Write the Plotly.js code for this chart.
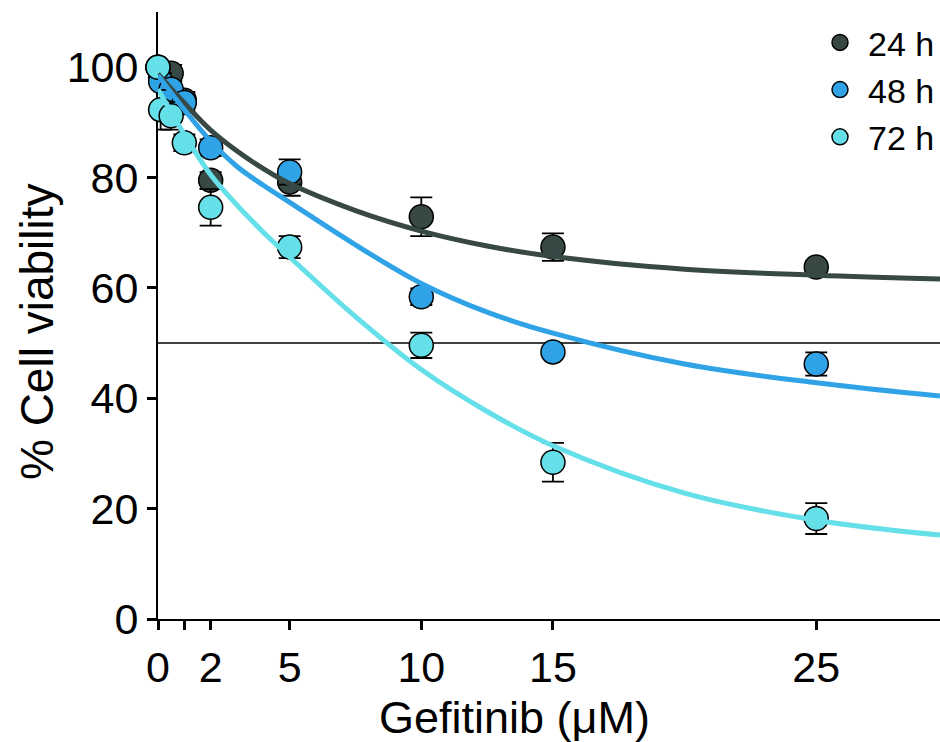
<!DOCTYPE html>
<html>
<head>
<meta charset="utf-8">
<script src="https://cdn.plot.ly/plotly-3.0.1.min.js"></script>
<style>html,body{margin:0;padding:0;background:#fff;}#chart{width:940px;height:742px;}</style>
</head>
<body>
<div id="chart"></div>
<script>
// Measured data (Gefitinib concentration in µM, % cell viability)
const conc = [0, 0.1, 0.5, 1, 2, 5, 10, 15, 25];
const v24 = [100, 98, 98.9, 94, 79.5, 79.2, 72.9, 67.4, 63.8];
const e24 = [0, 1, 1.5, 1.5, 1.5, 2.5, 3.5, 2.5, 1];
const v48 = [100, 97.4, 96, 93.6, 85.4, 81, 58.4, 48.4, 46.2];
const e48 = [0, 1.5, 1.5, 1.5, 1.5, 2.3, 1.5, 1, 2.1];
const v72 = [100, 92.3, 91.2, 86.3, 74.6, 67.4, 49.6, 28.4, 18.2];
const e72 = [0, 3.6, 2.5, 1.5, 3.3, 2, 2.3, 3.5, 2.8];

// Fitted curves
const fitX = [0, 1, 2, 3, 4, 5, 7.5, 10, 12.5, 15, 20, 25, 29.7];
const fit24 = [98.8, 93.5, 88.6, 84.8, 81.6, 78.9, 74.0, 70.3, 67.6, 65.7, 63.4, 62.3, 61.6];
const fit48 = [98.5, 92.3, 86.6, 82.0, 78.6, 75.5, 67.8, 60.8, 55.6, 51.8, 46.2, 42.8, 40.4];
const fit72 = [96.0, 87.8, 80.5, 75.0, 70.1, 65.6, 54.8, 45.2, 37.6, 31.4, 22.8, 17.9, 15.2];

const seriesNames = ['24 h', '48 h', '72 h'];
const colors = ['#374845', '#30a3e6', '#65dfe8'];
const threshold = 50;

const xTickVals = [0, 1, 2, 5, 10, 15, 25];
const xTickText = ['0', '', '2', '5', '10', '15', '25'];
const yTickVals = [0, 20, 40, 60, 80, 100];

const FONT = 'Liberation Sans, Arial, Helvetica, sans-serif';
const vals = [v24, v48, v72];
const errs = [e24, e48, e72];
const fits = [fit24, fit48, fit72];

const traces = [];
for (let i = 0; i < 3; i++) {
  traces.push({
    type: 'scatter', mode: 'markers', name: seriesNames[i],
    x: conc, y: vals[i], cliponaxis: false,
    marker: {size: 24, color: colors[i], line: {color: '#000', width: 1.5}},
    error_y: {type: 'data', array: errs[i], visible: true, color: '#000', thickness: 1.8, width: 11}
  });
}
for (let i = 0; i < 3; i++) {
  traces.push({
    type: 'scatter', mode: 'lines', showlegend: false, hoverinfo: 'skip',
    x: fitX, y: fits[i], cliponaxis: false,
    line: {color: colors[i], width: 5, shape: 'spline', smoothing: 1}
  });
}

const layout = {
  width: 940, height: 742,
  margin: {l: 158, r: 0, t: 12, b: 123},
  paper_bgcolor: '#fff', plot_bgcolor: '#fff',
  font: {family: FONT, color: '#000', size: 42},
  showlegend: true,
  legend: {x: 1, xanchor: 'right', y: 0.997, yanchor: 'top', font: {size: 34, family: FONT, color: '#000'},
           bgcolor: 'rgba(0,0,0,0)', itemwidth: 46, tracegroupgap: 0},
  xaxis: {
    range: [0, 29.7], showgrid: false, zeroline: false, showline: true, linecolor: '#000', linewidth: 2,
    ticks: 'outside', ticklen: 9, tickwidth: 3, tickcolor: '#000',
    tickmode: 'array', tickvals: xTickVals, ticktext: xTickText,
    tickfont: {size: 43, family: FONT, color: '#000'}, layer: 'below traces'
  },
  yaxis: {
    range: [0, 110], showgrid: false, zeroline: false, showline: true, linecolor: '#000', linewidth: 2,
    ticks: 'outside', ticklen: 9, tickwidth: 3, tickcolor: '#000',
    tickmode: 'array', tickvals: yTickVals,
    tickfont: {size: 43, family: FONT, color: '#000'}, layer: 'below traces'
  },
  shapes: [{type: 'line', xref: 'paper', yref: 'y', x0: 0, x1: 1, y0: threshold, y1: threshold,
            line: {color: '#000', width: 1.5}, layer: 'below'}],
  annotations: [
    {text: 'Gefitinib (μM)', xref: 'paper', yref: 'paper', x: 0.4565, y: -0.163, xanchor: 'center', yanchor: 'middle',
     showarrow: false, font: {size: 45, family: FONT, color: '#000'}},
    {text: '% Cell viability', xref: 'paper', yref: 'paper', x: -0.1547, y: 0.4728, xanchor: 'center', yanchor: 'middle',
     textangle: -90, showarrow: false, font: {size: 46, family: FONT, color: '#000'}}
  ]
};

Plotly.newPlot('chart', traces, layout, {displayModeBar: false, staticPlot: true});
</script>
</body>
</html>
